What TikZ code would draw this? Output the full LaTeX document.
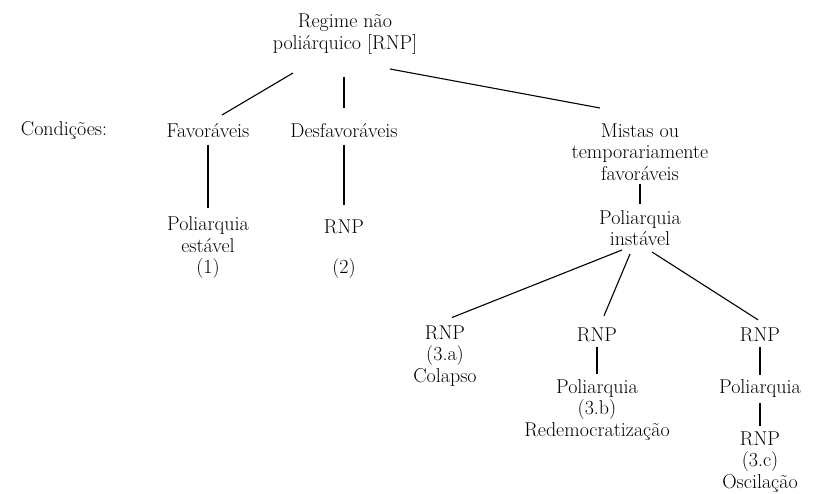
\documentclass[tikz,border=0pt]{standalone}
\usetikzlibrary{calc}
\begin{document}
\begin{tikzpicture}[x=1pt,y=-1pt,
  lbl/.style={align=center,inner sep=0pt,font=\fontsize{20}{21.5}\selectfont},
  edge/.style={line width=1.1pt,black}]
\useasboundingbox (0,0) rectangle (814,494);
\node[lbl] (root) at (345,34) {Regime não\\poliárquico [RNP]};
\node[lbl] (cond) at (64,131) {Condições:};
\node[lbl] (fav) at (208,131) {Favoráveis};
\node[lbl] (desf) at (344,131) {Desfavoráveis};
\node[lbl] (mist) at (640,152) {Mistas ou\\temporariamente\\favoráveis};
\node[lbl] (pe) at (208,248) {Poliarquia\\estável\\(1)};
\node[lbl] (rnpA) at (344,227) {RNP};
\node[lbl] (two) at (344,269) {(2)};
\node[lbl] (pi) at (640,228) {Poliarquia\\instável};
\node[lbl] (a) at (445,356) {RNP\\(3.a)\\Colapso};
\node[lbl] (b1) at (597,335) {RNP};
\node[lbl] (b2) at (597,410) {Poliarquia\\(3.b)\\Redemocratização};
\node[lbl] (c1) at (760,335) {RNP};
\node[lbl] (c2) at (760,389) {Poliarquia};
\node[lbl] (c3) at (760,462) {RNP\\(3.c)\\Oscilação};
% connectors
\draw[edge] ($(root.center)+(-52,39)$) -- ($(fav.center)+(14,-16)$);
\draw[edge] ($(root.center)+(-1,43)$) -- ($(desf.center)+(0,-23)$);
\draw[edge] ($(root.center)+(45,35)$) -- ($(mist.center)+(-40,-44)$);
\draw[edge] ($(fav.center)+(0,14)$) -- ($(pe.center)+(0,-40)$);
\draw[edge] ($(desf.center)+(0,14)$) -- ($(rnpA.center)+(0,-22)$);
\draw[edge] ($(mist.center)+(0,32)$) -- ($(pi.center)+(0,-24)$);
\draw[edge] ($(pi.center)+(-18,22)$) -- ($(a.north)+(7,-8)$);
\draw[edge] ($(pi.center)+(-10,26)$) -- ($(b1.north)+(7,-12)$);
\draw[edge] ($(pi.center)+(12,24)$) -- ($(c1.north)+(-2,-8)$);
\draw[edge] ($(b1.south)+(0,5)$) -- ($(b2.north)+(0,-5)$);
\draw[edge] ($(c1.south)+(0,5)$) -- ($(c2.north)+(0,-5)$);
\draw[edge] ($(c2.south)+(0,5)$) -- ($(c3.north)+(0,-5)$);
\end{tikzpicture}
\end{document}
